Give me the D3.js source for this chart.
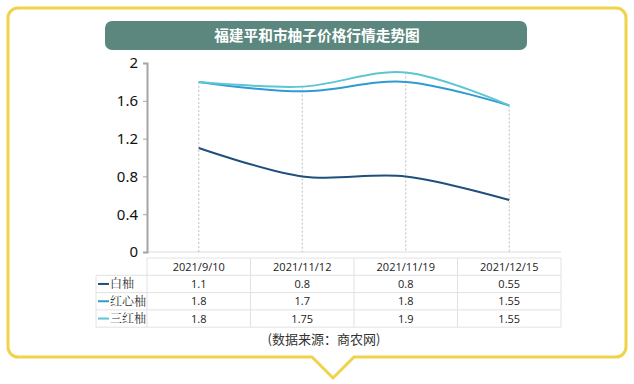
<!DOCTYPE html>
<html>
<head>
<meta charset="utf-8">
<script src="https://cdn.jsdelivr.net/npm/d3@7"></script>
<style>
  body { margin: 0; background: #fff; }
  svg { display: block; }
</style>
</head>
<body>
<script>
(function() {
  const categories = ['2021/9/10', '2021/11/12', '2021/11/19', '2021/12/15'];
  const seriesNames = ['白柚', '红心柚', '三红柚'];
  const baiYou = [1.1, 0.8, 0.8, 0.55];
  const hongXinYou = [1.8, 1.7, 1.8, 1.55];
  const sanHongYou = [1.8, 1.75, 1.9, 1.55];
  const yTicks = [0, 0.4, 0.8, 1.2, 1.6, 2];
  const colors = ['#1f4f7c', '#2f9bd3', '#5cc6d4'];

  const series = [baiYou, hongXinYou, sanHongYou];
  const width = 634;
  const height = 384;
  const left = 147;
  const right = 561;
  const top = 63;
  const bottom = 252;

  const svg = d3.select('body').append('svg').attr('width', width).attr('height', height);

  // yellow speech-bubble frame
  const x0 = 8, x1 = 626, y0 = 8, y1 = 357, r = 10;
  const frame = d3.path();
  frame.moveTo(x0 + r, y0);
  frame.lineTo(x1 - r, y0);
  frame.arcTo(x1, y0, x1, y0 + r, r);
  frame.lineTo(x1, y1 - r);
  frame.arcTo(x1, y1, x1 - r, y1, r);
  frame.lineTo(354, y1);
  frame.lineTo(333, 378);
  frame.lineTo(312, y1);
  frame.lineTo(x0 + r, y1);
  frame.arcTo(x0, y1, x0, y1 - r, r);
  frame.lineTo(x0, y0 + r);
  frame.arcTo(x0, y0, x0 + r, y0, r);
  frame.closePath();
  svg.append('path').attr('d', frame.toString())
    .attr('fill', '#fff').attr('stroke', '#efd34a').attr('stroke-width', 3);

  // title banner
  svg.append('rect').attr('x', 105).attr('y', 21).attr('width', 422).attr('height', 29)
    .attr('rx', 7).attr('fill', '#5b877e');
  svg.append('text').attr('x', 317).attr('y', 41).attr('text-anchor', 'middle')
    .attr('fill', '#fff').attr('font-size', 14.7).attr('font-weight', 'bold')
    .attr('font-family', '"Noto Sans CJK SC", sans-serif')
    .text('福建平和市柚子价格行情走势图');

  const xScale = d3.scaleBand().domain(categories).range([left, right]);
  const yScale = d3.scaleLinear().domain([0, 2]).range([bottom, top]);

  // baseline
  svg.append('line').attr('x1', left).attr('x2', right).attr('y1', bottom).attr('y2', bottom)
    .attr('stroke', '#dcdcdc').attr('stroke-width', 1);

  // y axis
  const yAxis = svg.append('g')
    .attr('transform', 'translate(' + left + ',0)')
    .call(d3.axisLeft(yScale).tickValues(yTicks).tickSize(4).tickPadding(5)
      .tickFormat(function(d) { return d; }));
  yAxis.select('.domain').attr('stroke', '#a5a5a5').attr('stroke-width', 2);
  yAxis.selectAll('.tick line').attr('stroke', '#a5a5a5');
  yAxis.selectAll('.tick text').attr('font-size', 15).attr('fill', '#111')
    .attr('font-family', '"Noto Sans", sans-serif');

  // drop lines
  svg.append('g').selectAll('line')
    .data(categories)
    .enter()
    .append('line')
    .attr('x1', function(d) { return xScale(d) + xScale.bandwidth() / 2; })
    .attr('x2', function(d) { return xScale(d) + xScale.bandwidth() / 2; })
    .attr('y1', function(d, i) { return yScale(d3.max(series, function(s) { return s[i]; })); })
    .attr('y2', bottom)
    .attr('stroke', '#bdbdbd').attr('stroke-width', 1).attr('stroke-dasharray', '2,2');

  const line = d3.line()
    .x(function(d, i) { return xScale(categories[i]) + xScale.bandwidth() / 2; })
    .y(function(d) { return yScale(d); })
    .curve(d3.curveCardinal.tension(0));

  svg.append('g').selectAll('path')
    .data(series)
    .enter()
    .append('path')
    .attr('d', line)
    .attr('fill', 'none')
    .attr('stroke', function(d, i) { return colors[i]; })
    .attr('stroke-width', 2);

  // data table
  const rowTop = 258;
  const rowH = 17.3;
  const legendLeft = 96;
  const table = svg.append('g');
  const gridColor = '#e2e2e2';
  // horizontal lines
  table.append('line').attr('x1', left).attr('x2', right).attr('y1', rowTop).attr('y2', rowTop)
    .attr('stroke', gridColor);
  for (let i = 1; i <= series.length + 1; i++) {
    table.append('line').attr('x1', legendLeft).attr('x2', right)
      .attr('y1', rowTop + i * rowH).attr('y2', rowTop + i * rowH).attr('stroke', gridColor);
  }
  // vertical lines
  table.append('line').attr('x1', legendLeft).attr('x2', legendLeft)
    .attr('y1', rowTop + rowH).attr('y2', rowTop + (series.length + 1) * rowH).attr('stroke', gridColor);
  const colEdges = categories.map(function(c) { return xScale(c); }).concat([right]);
  table.selectAll('line.v').data(colEdges).enter().append('line')
    .attr('x1', function(d) { return d; }).attr('x2', function(d) { return d; })
    .attr('y1', rowTop).attr('y2', rowTop + (series.length + 1) * rowH).attr('stroke', gridColor);

  const tableFont = '"Open Sans", "Noto Sans", sans-serif';
  table.selectAll('text.head').data(categories).enter().append('text')
    .attr('x', function(d) { return xScale(d) + xScale.bandwidth() / 2; })
    .attr('y', rowTop + rowH / 2 + 4)
    .attr('text-anchor', 'middle').attr('font-size', 11).attr('fill', '#222')
    .attr('font-family', tableFont)
    .text(function(d) { return d; });

  series.forEach(function(s, si) {
    const cy = rowTop + (si + 1) * rowH + rowH / 2;
    table.append('line').attr('x1', legendLeft + 2).attr('x2', legendLeft + 13)
      .attr('y1', cy).attr('y2', cy).attr('stroke', colors[si]).attr('stroke-width', 2);
    table.append('text').attr('x', legendLeft + 14).attr('y', cy + 4.5)
      .attr('font-size', 12).attr('fill', '#333')
      .attr('font-family', '"Noto Serif CJK SC", "Noto Sans CJK SC", sans-serif')
      .text(seriesNames[si]);
    table.selectAll('text.v' + si).data(s).enter().append('text')
      .attr('x', function(d, i) { return xScale(categories[i]) + xScale.bandwidth() / 2; })
      .attr('y', cy + 4)
      .attr('text-anchor', 'middle').attr('font-size', 11).attr('fill', '#222')
      .attr('font-family', tableFont)
      .text(function(d) { return d; });
  });

  // source note
  svg.append('text').attr('x', 324).attr('y', 344).attr('text-anchor', 'middle')
    .attr('font-size', 13).attr('fill', '#333')
    .attr('font-family', '"Noto Sans CJK SC", sans-serif')
    .text('(数据来源：商农网)');
})();
</script>
</body>
</html>
